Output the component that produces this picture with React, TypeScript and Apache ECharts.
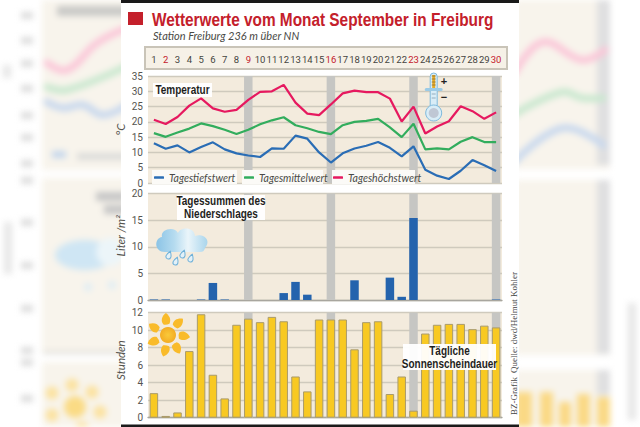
import React, { useEffect, useRef } from "react";
import * as echarts from "echarts";

const days = Array.from({ length: 30 }, (_, i) => String(i + 1));
const weekendDays = ["2", "9", "16", "23", "30"];
const bandDays = ["9", "16", "23", "30"];

const tiefst = [13, 11.2, 12.3, 10, 11.8, 13.3, 11, 9.7, 9, 8.5, 11.3, 11.2, 15.5, 14.5, 10, 6.7, 9.7, 11.3, 12.2, 13.4, 11.5, 8.7, 12, 4.3, 2.4, 1.3, 4, 7.5, 5.8, 3.9];
const mittel = [16.3, 15.1, 16.5, 17.8, 19.5, 18.6, 17.4, 16, 17.4, 19.2, 20.5, 21.5, 18.9, 17.9, 16.7, 16, 18.9, 20, 20.3, 21, 18.2, 15, 19.4, 11, 11.3, 11, 13.5, 15, 13.4, 13.4];
const hoechst = [20.7, 19.3, 21.6, 25.3, 27.7, 24.4, 23.3, 23.9, 27.2, 29.8, 30, 32.1, 26.3, 22.7, 22.2, 25.7, 29.3, 30.2, 29.7, 29.7, 27.6, 20.1, 25, 16.2, 18.5, 20.2, 25.1, 23.5, 21, 23.1];
const niederschlag = [0.1, 0.1, 0, 0, 0.1, 3.2, 0.1, 0, 0, 0, 0, 1.3, 3.4, 1, 0, 0, 0, 3.7, 0, 0, 4.2, 0.6, 15.4, 0, 0, 0, 0, 0, 0, 0.1];
const sonne = [2.8, 0.2, 0.6, 7.6, 11.8, 4.9, 2.2, 10.6, 11.3, 10.9, 11.5, 11, 4.7, 3, 11.2, 11.2, 11.2, 7.8, 10.9, 11, 2.7, 4.7, 0.8, 9.6, 10.6, 10.7, 10.7, 10.1, 10.5, 10.3];

const SANS = '"Liberation Sans", sans-serif';
const NARROWISH = 'Roboto, sans-serif';
const BEIGE = "#f3ebdd";
const GRIDLINE = "#cfcabd";
const LABEL = "#55544f";

const bandSeries = (xAxisIndex: number, max: number) => ({
  type: "bar",
  xAxisIndex,
  yAxisIndex: xAxisIndex,
  barWidth: 8.5,
  barGap: "-100%",
  silent: true,
  itemStyle: { color: "#c6c6c3" },
  data: days.map((d) => (bandDays.includes(d) ? max : null)),
});

const yAxis = (gridIndex: number, max: number, interval: number, name: string, shift: number) => ({
  type: "value",
  gridIndex,
  min: 0,
  max,
  interval,
  name,
  nameLocation: "middle",
  nameRotate: 90,
  nameGap: 22,
  nameMoveOverlap: false,
  nameTextStyle: { fontFamily: "Lato, sans-serif", fontStyle: "italic", fontSize: 11.5, color: LABEL, padding: [0, 0, 0, shift] },
  axisLine: { show: false },
  axisTick: { show: false },
  axisLabel: { margin: 5, fontFamily: NARROWISH, fontSize: 10, color: LABEL },
  splitLine: { lineStyle: { color: GRIDLINE, width: 1.3 } },
});

const legendAt = (name: string, left: number) => ({
  data: [name],
  left,
  top: 172,
  padding: 0,
  icon: "roundRect",
  itemWidth: 10,
  itemHeight: 2.5,
  itemGap: 4,
  textStyle: { fontFamily: "Lato, sans-serif", fontStyle: "italic", fontSize: 10.5, color: "#4a4a46" },
});

const labelBox = (x: number, y: number, width: number, height: number, text: string) => [
  { type: "rect", z: 6, shape: { x, y, width, height }, style: { fill: "rgba(255,255,255,0.95)" } },
  {
    type: "text",
    z: 7,
    x: x + width / 2,
    y: y + height / 2,
    scaleX: 0.8,
    style: {
      text,
      fill: "#1f1f1d",
      font: `bold 12.5px ${SANS}`,
      lineHeight: 13,
      align: "center",
      verticalAlign: "middle",
    },
  },
];

const ghostLine = (points: number[][], stroke: string, lineWidth = 7) => ({
  type: "polyline",
  shape: { points, smooth: 0.4 },
  style: { stroke, lineWidth, fill: "none", lineCap: "round" },
});

const ghostRect = (x: number, y: number, width: number, height: number, fill: string) => ({
  type: "rect",
  shape: { x, y, width, height },
  style: { fill },
});

const ghostTickYs = [15, 40, 63, 88, 115, 137, 163, 180, 222, 265, 308, 350, 362, 398];

function sideGhosts() {
  return [
    ghostRect(42, -10, 85, 180, "#f8f4ec"),
    ghostRect(42, 178, 85, 175, "#f8f4ec"),
    ghostRect(42, 362, 85, 75, "#f8f4ec"),
    ghostRect(515, -10, 95, 179, "#f8f4ec"),
    ghostRect(515, 180, 95, 175, "#f8f4ec"),
    ghostRect(515, 370, 95, 67, "#f8f4ec"),
    ghostRect(597, -10, 13, 175, "#dfdfe0"),
    ghostRect(597, 180, 13, 174, "#dfdfe0"),
    ghostRect(597, 370, 13, 25, "#dfdfe0"),
    ghostRect(57, 6, 70, 10, "#c9c9c7"),
    ghostRect(77, 153, 50, 7, "#dcdcda"),
    ghostRect(52, 151, 14, 7, "#c4d6ec"),
    ghostRect(96, 192, 30, 9, "#c6c6c6"),
    ghostRect(104, 205, 24, 9, "#c6c6c6"),
    ghostRect(3, 65, 8, 13, "#e6e6e6"),
    ghostRect(4, 222, 8, 52, "#e6e6e6"),
    ghostRect(628, 303, 8, 117, "#e6e6e6"),
    ...ghostTickYs.map((y) => ghostRect(21, y - 3, 12, 7, "#dcdcdc")),
    ghostRect(43, 351, 85, 3, "#dedcd6"),
    ghostRect(515, 392, 17, 40, "#fad985"),
    ghostRect(540, 392, 13, 40, "#fad985"),
    ghostRect(559, 402, 12, 30, "#fad985"),
    ghostRect(577, 394, 13, 38, "#fad985"),
    ghostRect(597, 397, 13, 35, "#fad985"),
    ghostLine([[47, 63], [67, 70], [97, 43], [127, 28]], "#fbc6d8"),
    ghostLine([[47, 87], [67, 90], [127, 66]], "#c9e8cf"),
    ghostLine([[47, 102], [63, 108], [83, 105], [103, 115], [127, 105]], "#c8d8ee"),
    ghostLine([[515, 72], [543, 42], [582, 60], [605, 50]], "#fbc6d8"),
    ghostLine([[515, 114], [562, 92], [582, 98], [603, 98]], "#c9e8cf"),
    ghostLine([[515, 161], [563, 128], [603, 145]], "#c8d8ee"),
    { type: "ellipse", shape: { cx: 85, cy: 255, rx: 30, ry: 15 }, style: { fill: "#cfe6f4" } },
    { type: "circle", shape: { cx: 110, cy: 252, r: 14 }, style: { fill: "#ecf5f9" } },
    { type: "circle", shape: { cx: 88, cy: 287, r: 4 }, style: { fill: "#dcecf5" } },
    { type: "circle", shape: { cx: 112, cy: 285, r: 4 }, style: { fill: "#dcecf5" } },
    { type: "circle", shape: { cx: 75, cy: 407, r: 11 }, style: { fill: "#fadb85" } },
    ...[[72, 385], [92, 392], [100, 412], [52, 393], [52, 415], [82, 428]].map(([cx, cy]) => ({
      type: "circle",
      shape: { cx, cy, r: 6.5 },
      style: { fill: "#fbe2a0" },
    })),
  ];
}

function cloudIcon() {
  const drops = [[169, 255], [183, 254], [191, 258], [176, 261]];
  return [
    {
      type: "bzCloud",
      z: 5,
      style: {
        fill: new echarts.graphic.LinearGradient(0, 0, 1, 0, [
          { offset: 0, color: "#8cc4e6" },
          { offset: 0.35, color: "#b5dbef" },
          { offset: 0.62, color: "#eaf5fa" },
          { offset: 1, color: "#a9d5ec" },
        ]),
      },
    },
    ...drops.map(([x, y]) => ({
      type: "bzDrop",
      z: 5,
      x,
      y,
      rotation: -0.35,
      style: { fill: "#e3f1f8", stroke: "#6db0d9", lineWidth: 1 },
    })),
  ];
}

function sunIcon() {
  const cx = 168;
  const cy = 335;
  const angles = [-8, 40, 93, 145, 190, 245, 298];
  return [
    ...angles.map((a) => ({
      type: "bzPetal",
      z: 5,
      x: cx,
      y: cy,
      rotation: (-a * Math.PI) / 180,
      style: { fill: "#f9bb2a" },
    })),
    {
      type: "circle",
      z: 5,
      shape: { cx, cy, r: 8 },
      style: {
        fill: new echarts.graphic.RadialGradient(0.5, 0.5, 0.6, [
          { offset: 0, color: "#f9c93a" },
          { offset: 1, color: "#f2a71f" },
        ]),
      },
    },
  ];
}

function thermometerIcon() {
  const cx = 433.7;
  const stripes = [76, 79, 82, 85];
  return [
    { type: "rect", z: 5, shape: { x: cx - 3.5, y: 73, width: 7, height: 36, r: 3.5 }, style: { fill: "#d9edf7", stroke: "#7fbadd", lineWidth: 1 } },
    { type: "rect", z: 5, shape: { x: cx - 9, y: 88, width: 18, height: 3, r: 1.5 }, style: { fill: "#9ccbe6" } },
    { type: "rect", z: 5, shape: { x: cx - 1.5, y: 75, width: 3, height: 13 }, style: { fill: "#e8ab24" } },
    ...stripes.map((y) => ({
      type: "line",
      z: 5,
      shape: { x1: cx - 2, y1: y, x2: cx + 2, y2: y },
      style: { stroke: "#7d6a3c", lineWidth: 0.7 },
    })),
    { type: "line", z: 5, shape: { x1: cx - 2, y1: 94, x2: cx + 2, y2: 94 }, style: { stroke: "#7a93a6", lineWidth: 0.7 } },
    { type: "line", z: 5, shape: { x1: cx - 2, y1: 98, x2: cx + 2, y2: 98 }, style: { stroke: "#7a93a6", lineWidth: 0.7 } },
    { type: "circle", z: 5, shape: { cx, cy: 113, r: 8 }, style: { fill: "#d9edf7", stroke: "#7fbadd", lineWidth: 1 } },
    { type: "circle", z: 5, shape: { cx, cy: 113, r: 5 }, style: { fill: "#bfc7d4" } },
    { type: "text", z: 5, x: 444, y: 81, style: { text: "+", fill: "#222", font: `bold 11px ${SANS}`, align: "center", verticalAlign: "middle" } },
    { type: "text", z: 5, x: 444, y: 97, style: { text: "−", fill: "#222", font: `bold 11px ${SANS}`, align: "center", verticalAlign: "middle" } },
  ];
}

export default function App() {
  const ref = useRef<HTMLDivElement | null>(null);
  const ghostRefEl = useRef<HTMLDivElement | null>(null);

  useEffect(() => {
    document.body.style.margin = "0";
    echarts.graphic.registerShape(
      "bzCloud",
      echarts.graphic.extendPath("M165 252 C154 252 154 238 162 237 C160 229 175 226 178 233 C180 227 194 226 195 236 C203 233 212 240 205 248 C204 251 203 252 200 252 Z", {})
    );
    echarts.graphic.registerShape(
      "bzDrop",
      echarts.graphic.extendPath("M0 -4 C2 -1 2.5 0 2.5 1.5 C2.5 5 -2.5 5 -2.5 1.5 C-2.5 0 -2 -1 0 -4 Z", {})
    );
    echarts.graphic.registerShape(
      "bzPetal",
      echarts.graphic.extendPath("M-3 -11 C-6 -15 -3 -20 1 -22 C5 -18 5 -14 3 -11 Q0 -10 -3 -11 Z", {})
    );

    const ghost = echarts.init(ghostRefEl.current!, null, { renderer: "svg" });
    ghost.setOption({ animation: false, graphic: sideGhosts() });

    const chart = echarts.init(ref.current!, null, { renderer: "svg" });
    chart.setOption({
      animation: false,
      backgroundColor: "transparent",
      legend: [
        legendAt("Tagestiefstwert", 154),
        legendAt("Tagesmittelwert", 244),
        legendAt("Tageshöchstwert", 333),
      ],
      grid: [
        { left: 148, right: 138, top: 76, height: 107, show: true, backgroundColor: BEIGE, borderWidth: 0 },
        { left: 148, right: 138, top: 193.5, height: 106.5, show: true, backgroundColor: BEIGE, borderWidth: 0 },
        { left: 148, right: 138, top: 312.5, height: 105.2, show: true, backgroundColor: BEIGE, borderWidth: 0 },
      ],
      xAxis: [
        {
          type: "category",
          gridIndex: 0,
          data: days,
          position: "top",
          axisLine: { show: false },
          axisTick: { show: false },
          axisLabel: {
            interval: 0,
            margin: 12,
            fontFamily: NARROWISH,
            fontSize: 9.5,
            color: (v: string) => (weekendDays.includes(v) ? "#c4202b" : "#444440"),
            fontWeight: (v: string) => (weekendDays.includes(v) ? "bold" : "normal"),
          },
        },
        { type: "category", gridIndex: 1, data: days, axisLine: { lineStyle: { color: "#a8a69e", width: 1.3 } }, axisTick: { show: false }, axisLabel: { show: false } },
        { type: "category", gridIndex: 2, data: days, axisLine: { lineStyle: { color: "#a8a69e", width: 1.3 } }, axisTick: { show: false }, axisLabel: { show: false } },
      ],
      yAxis: [
        yAxis(0, 35, 5, "°C", 0),
        yAxis(1, 20, 5, "Liter /m²", 22),
        yAxis(2, 12, 2, "Stunden", 10),
      ],
      series: [
        bandSeries(0, 35),
        { name: "Tagestiefstwert", type: "line", xAxisIndex: 0, yAxisIndex: 0, data: tiefst, symbol: "none", lineStyle: { color: "#2a6db5", width: 2.2 }, itemStyle: { color: "#2a6db5" } },
        { name: "Tagesmittelwert", type: "line", xAxisIndex: 0, yAxisIndex: 0, data: mittel, symbol: "none", lineStyle: { color: "#32ad5d", width: 2.2 }, itemStyle: { color: "#32ad5d" } },
        { name: "Tageshöchstwert", type: "line", xAxisIndex: 0, yAxisIndex: 0, data: hoechst, symbol: "none", lineStyle: { color: "#e6195f", width: 2.2 }, itemStyle: { color: "#e6195f" } },
        bandSeries(1, 20),
        { name: "Niederschlag", type: "bar", xAxisIndex: 1, yAxisIndex: 1, barWidth: 8.5, barGap: "-100%", data: niederschlag, itemStyle: { color: "#2463ad" } },
        bandSeries(2, 12),
        { name: "Sonnenscheindauer", type: "bar", xAxisIndex: 2, yAxisIndex: 2, barWidth: 8.5, barGap: "-100%", data: sonne, itemStyle: { color: "#f8c922", borderColor: "#a99b6c", borderWidth: 1 } },
      ],
      graphic: [
        { type: "rect", z: -1, shape: { x: 121, y: 0, width: 398, height: 427 }, style: { fill: "#ffffff" } },
        { type: "rect", z: 1, shape: { x: 121, y: 0, width: 398, height: 3 }, style: { fill: "#1a1a1a" } },
        { type: "rect", z: 1, shape: { x: 121, y: 424.5, width: 398, height: 2.5 }, style: { fill: "#1a1a1a" } },
        { type: "rect", z: 1, shape: { x: 128, y: 12, width: 15, height: 13 }, style: { fill: "#c4202b" } },
        {
          type: "text",
          z: 2,
          x: 152,
          y: 19,
          scaleX: 0.81,
          style: { text: "Wetterwerte vom Monat September in Freiburg", fill: "#c4202b", font: `bold 19px ${SANS}`, align: "left", verticalAlign: "middle" },
        },
        {
          type: "text",
          z: 2,
          x: 153,
          y: 35,
          style: { text: "Station Freiburg 236 m über NN", fill: "#4a4a46", font: "italic 11px Lato, sans-serif", align: "left", verticalAlign: "middle" },
        },
        { type: "rect", z: 0, shape: { x: 145, y: 47, width: 362, height: 22 }, style: { fill: "#f6f1e7", stroke: "#c9c4b8", lineWidth: 2 } },
        { type: "rect", z: 3, shape: { x: 152, y: 170, width: 85, height: 14 }, style: { fill: "#fbfaf7" } },
        { type: "rect", z: 3, shape: { x: 242, y: 170, width: 81, height: 14 }, style: { fill: "#fbfaf7" } },
        { type: "rect", z: 3, shape: { x: 332, y: 170, width: 83, height: 14 }, style: { fill: "#fbfaf7" } },
        ...labelBox(153, 83, 59, 14, "Temperatur"),
        ...labelBox(177, 195, 88, 25, "Tagessummen des\nNiederschlages"),
        ...labelBox(403, 344, 93, 26, "Tägliche\nSonnenscheindauer"),
        ...thermometerIcon(),
        ...cloudIcon(),
        ...sunIcon(),
        {
          type: "text",
          z: 5,
          x: 514,
          y: 415,
          rotation: Math.PI / 2,
          style: { text: "BZ-Grafik", fill: "#444", font: "9px Liberation Serif", align: "left", verticalAlign: "middle" },
        },
        {
          type: "text",
          z: 5,
          x: 514,
          y: 373,
          rotation: Math.PI / 2,
          style: { text: "Quelle: dwd/Helmut Kohler", fill: "#444", font: "9px Liberation Serif", align: "left", verticalAlign: "middle" },
        },
      ],
    });
    return () => {
      chart.dispose();
      ghost.dispose();
    };
  }, []);

  return (
    <div style={{ position: "absolute", left: 0, top: 0, width: 640, height: 427, overflow: "hidden", background: "#fff" }}>
      <div ref={ghostRefEl} style={{ position: "absolute", left: 0, top: 0, width: 640, height: 427, filter: "blur(3px)" }} />
      <div ref={ref} style={{ position: "absolute", left: 0, top: 0, width: 640, height: 427 }} />
    </div>
  );
}
